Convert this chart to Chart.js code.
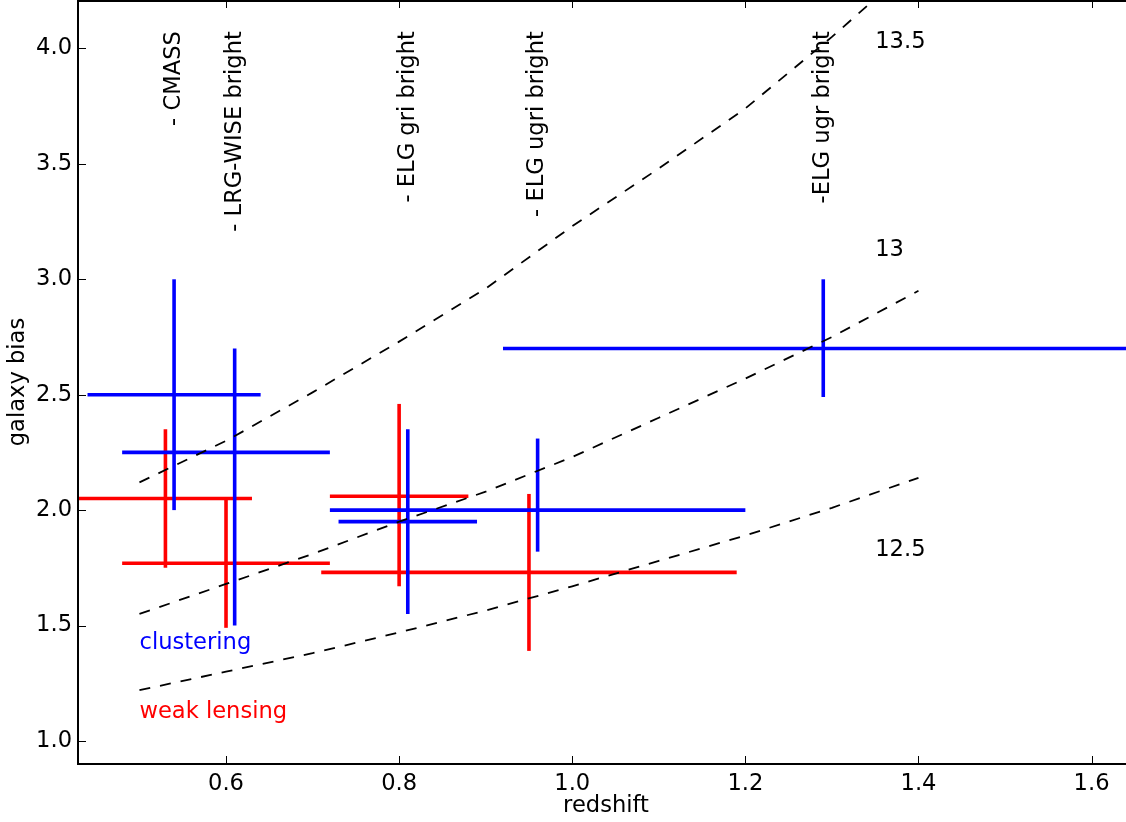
<!DOCTYPE html>
<html lang="en">
<head>
    <meta charset="UTF-8">
    <title>galaxy bias</title>
    <script src="https://cdn.jsdelivr.net/npm/chart.js"></script>
    <style>
        html, body { margin: 0; padding: 0; background: #fff; overflow: hidden; }
        #wrap { width: 1134px; height: 822px; }
    </style>
</head>
<body>
<div id="wrap"><canvas id="grafico"></canvas></div>
<script>
    // clustering measurements (blue)
    var clusterZ   = [0.54, 0.61, 0.81, 0.96, 1.29];
    var clusterZlo = [0.44, 0.48, 0.73, 0.72, 0.92];
    var clusterZhi = [0.64, 0.72, 0.89, 1.20, 1.66];
    var clusterB   = [2.50, 2.25, 1.95, 2.00, 2.70];
    var clusterBlo = [2.00, 1.50, 1.55, 1.82, 2.49];
    var clusterBhi = [3.00, 2.70, 2.35, 2.31, 3.00];

    // weak lensing measurements (red)
    var lensZ   = [0.53, 0.60, 0.80, 0.95];
    var lensZlo = [0.42, 0.48, 0.72, 0.71];
    var lensZhi = [0.63, 0.72, 0.88, 1.19];
    var lensB   = [2.05, 1.77, 2.06, 1.73];
    var lensBlo = [1.75, 1.49, 1.67, 1.39];
    var lensBhi = [2.35, 2.05, 2.46, 2.07];

    // halo bias curves (dashed)
    var modelZ   = [0.5, 0.6, 0.7, 0.8, 0.9, 1.0, 1.1, 1.2, 1.3, 1.4];
    var bias125  = [1.22, 1.30, 1.38, 1.47, 1.565, 1.67, 1.78, 1.89, 2.01, 2.14];
    var bias13   = [1.55, 1.68, 1.81, 1.95, 2.08, 2.23, 2.40, 2.57, 2.75, 2.95];
    var bias135  = [2.12, 2.30, 2.51, 2.73, 2.96, 3.23, 3.48, 3.74, 4.05, 4.38];

    var massLabels = ['12.5', '13', '13.5'];
    var massLabelZ = 1.35;
    var massLabelB = [1.8, 3.1, 4.0];

    var surveyNames = ['- CMASS', '- LRG-WISE bright', '- ELG gri bright', '- ELG ugri bright', '-ELG ugr bright'];
    var surveyZ = [0.54, 0.61, 0.81, 0.96, 1.29];
    var surveyTop = 4.075;

    var xTicks = [0.6, 0.8, 1.0, 1.2, 1.4, 1.6];
    var yTicks = [1.0, 1.5, 2.0, 2.5, 3.0, 3.5, 4.0];

    var tamanho = 22.6;
    Chart.defaults.font.family = "'DejaVu Sans', sans-serif";
    Chart.defaults.font.size = tamanho;
    Chart.defaults.color = '#000';

    function segmento(pontos, cor, largura, traco) {
        return {
            data: pontos,
            showLine: true,
            borderColor: cor,
            borderWidth: largura,
            borderDash: traco || [],
            borderCapStyle: 'butt',
            pointRadius: 0,
            tension: 0
        };
    }

    var datasets = [];
    [bias125, bias13, bias135].forEach(function (serie) {
        datasets.push(segmento(modelZ.map((z, i) => ({ x: z, y: serie[i] })), '#000', 1.8, [11, 10]));
    });

    function cruzes(z, zlo, zhi, b, blo, bhi, cor) {
        for (var i = 0; i < z.length; i++) {
            datasets.push(segmento([{ x: zlo[i], y: b[i] }, { x: zhi[i], y: b[i] }], cor, 3.6));
            datasets.push(segmento([{ x: z[i], y: blo[i] }, { x: z[i], y: bhi[i] }], cor, 3.6));
        }
    }
    cruzes(clusterZ, clusterZlo, clusterZhi, clusterB, clusterBlo, clusterBhi, '#0000ff');
    cruzes(lensZ, lensZlo, lensZhi, lensB, lensBlo, lensBhi, '#ff0000');

    var textos = {
        id: 'textos',
        afterDatasetsDraw: function (chart) {
            var ctx = chart.ctx, xs = chart.scales.x, ys = chart.scales.y;
            ctx.save();
            ctx.font = tamanho + "px 'DejaVu Sans'";
            ctx.fillStyle = '#000';
            ctx.textAlign = 'left';
            ctx.textBaseline = 'alphabetic';
            massLabels.forEach(function (t, i) {
                ctx.fillText(t, xs.getPixelForValue(massLabelZ), ys.getPixelForValue(massLabelB[i]));
            });
            ctx.fillStyle = '#0000ff';
            ctx.fillText('clustering', xs.getPixelForValue(0.5), ys.getPixelForValue(1.4));
            ctx.fillStyle = '#ff0000';
            ctx.fillText('weak lensing', xs.getPixelForValue(0.5), ys.getPixelForValue(1.1));

            ctx.fillStyle = '#000';
            ctx.textAlign = 'right';
            ctx.textBaseline = 'middle';
            surveyNames.forEach(function (t, i) {
                ctx.save();
                ctx.translate(xs.getPixelForValue(surveyZ[i]), ys.getPixelForValue(surveyTop));
                ctx.rotate(-Math.PI / 2);
                ctx.fillText(t, 0, 0);
                ctx.restore();
            });
            ctx.restore();
        },
        afterDraw: function (chart) {
            var ctx = chart.ctx, a = chart.chartArea, xs = chart.scales.x, ys = chart.scales.y;
            ctx.save();
            ctx.strokeStyle = '#000';
            ctx.lineWidth = 1;
            ctx.beginPath();
            xTicks.forEach(function (v) {
                var px = Math.round(xs.getPixelForValue(v)) + 0.5;
                ctx.moveTo(px, a.bottom); ctx.lineTo(px, a.bottom - 8);
                ctx.moveTo(px, a.top); ctx.lineTo(px, a.top + 8);
            });
            yTicks.forEach(function (v) {
                var py = Math.round(ys.getPixelForValue(v)) + 0.5;
                ctx.moveTo(a.left, py); ctx.lineTo(a.left + 8, py);
                ctx.moveTo(a.right, py); ctx.lineTo(a.right - 8, py);
            });
            ctx.stroke();
            ctx.lineWidth = 2;
            ctx.strokeRect(a.left, a.top + 1, a.right - a.left - 1, a.bottom - a.top - 1);
            ctx.restore();
        }
    };

    new Chart(document.getElementById('grafico'), {
        type: 'scatter',
        data: { datasets: datasets },
        options: {
            responsive: true,
            maintainAspectRatio: false,
            animation: false,
            layout: { padding: 0 },
            plugins: { legend: { display: false }, tooltip: { enabled: false } },
            scales: {
                x: {
                    type: 'linear',
                    min: 0.429,
                    max: 1.649,
                    grid: { display: false, drawTicks: false },
                    border: { display: false },
                    ticks: { padding: 7, maxRotation: 0, autoSkip: false, callback: v => v.toFixed(1) },
                    afterBuildTicks: function (s) { s.ticks = xTicks.map(v => ({ value: v })); },
                    afterFit: function (s) { s.height = 58; s.paddingLeft = 0; s.paddingRight = 0; },
                    title: { display: true, text: 'redshift', padding: { top: 0, bottom: 2 } }
                },
                y: {
                    type: 'linear',
                    min: 0.9,
                    max: 4.21,
                    grid: { display: false, drawTicks: false },
                    border: { display: false },
                    ticks: { padding: 6, autoSkip: false, callback: v => v.toFixed(1) },
                    afterBuildTicks: function (s) { s.ticks = yTicks.map(v => ({ value: v })); },
                    afterFit: function (s) { s.width = 78; s.paddingTop = 0; s.paddingBottom = 0; },
                    title: { display: true, text: 'galaxy bias', padding: { top: 5, bottom: 0 } }
                }
            }
        },
        plugins: [textos]
    });
</script>
</body>
</html>
